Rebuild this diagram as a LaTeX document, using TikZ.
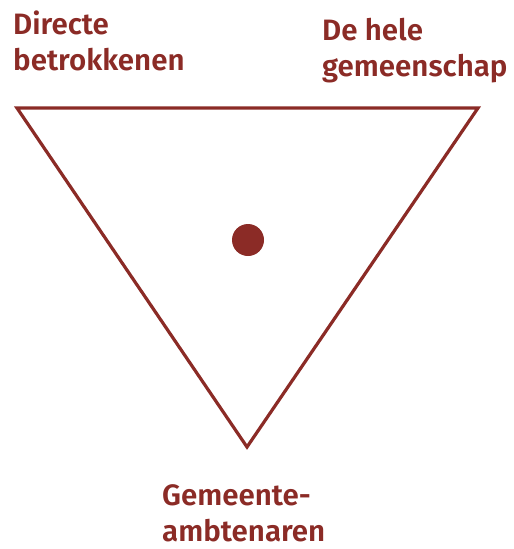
\documentclass[tikz,border=0pt]{standalone}
\usepackage{fontspec}
\newfontfamily\lab{Fira Sans SemiBold}
\definecolor{dred}{HTML}{8B2B26}
\begin{document}
\begin{tikzpicture}[x=1pt,y=-1pt,
  lbl/.style={text=dred,font=\lab\fontsize{29.5}{36}\selectfont,align=left,anchor=base west,inner sep=0pt}]
\useasboundingbox (0,0) rectangle (514,549);
\coordinate (tl) at (17,108);
\coordinate (tr) at (478,108);
\coordinate (bt) at (247,447);
\draw[dred,line width=3.2pt,line join=miter] (tl) -- (tr) -- (bt) -- cycle;
\fill[dred] (248,240) circle (16);
\node[lbl] (a) at (13,70) {Directe\\betrokkenen};
\node[lbl] (b) at (322,76) {De hele\\gemeenschap};
\node[lbl] (c) at (162,541) {Gemeente-\\ambtenaren};
\end{tikzpicture}
\end{document}
